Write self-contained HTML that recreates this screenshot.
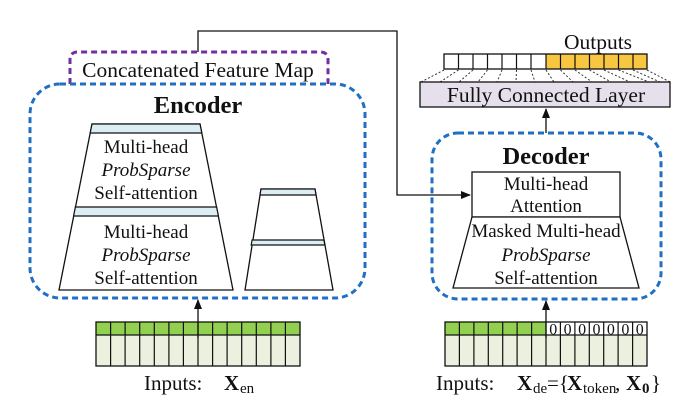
<!DOCTYPE html>
<html><head><meta charset="utf-8"><style>
html,body{margin:0;padding:0;background:#fff;}
svg{display:block;}
text{font-family:"Liberation Serif",serif;fill:#111;}
</style></head><body>
<svg width="700" height="412" viewBox="0 0 700 412" xmlns="http://www.w3.org/2000/svg">
<defs>
<marker id="ar" markerWidth="10" markerHeight="10" refX="9" refY="5" orient="auto" markerUnits="userSpaceOnUse">
<path d="M0,1 L10,5 L0,9 z" fill="#111"/>
</marker>
</defs>

<polyline points="198,52 198,31 397,31 397,195 470,195" fill="none" stroke="#111" stroke-width="1.3" marker-end="url(#ar)"/>

<path d="M70,84 L70,60 Q70,52 78,52 L320,52 Q328,52 328,60 L328,84" fill="none" stroke="#7030a0" stroke-width="3" stroke-dasharray="6,4"/>
<text x="198" y="77" font-size="21.5" text-anchor="middle">Concatenated Feature Map</text>

<rect x="30" y="84" width="335" height="214" rx="30" fill="none" stroke="#1f6fc5" stroke-width="3" stroke-dasharray="6,4"/>
<text x="198" y="113" font-size="24.5" font-weight="bold" text-anchor="middle">Encoder</text>

<polygon points="92,124 200,124 233,290 59,290" fill="#fff" stroke="#111" stroke-width="1.3"/>
<polygon points="92,124 200,124 201.8,133 90.2,133" fill="#daeef3" stroke="#111" stroke-width="1.2"/>
<polygon points="75.4,207 216.6,207 218.4,216 73.6,216" fill="#daeef3" stroke="#111" stroke-width="1.2"/>
<text x="146" y="153" font-size="19" text-anchor="middle">Multi-head</text>
<text x="146" y="176" font-size="19" text-anchor="middle" font-style="italic">ProbSparse</text>
<text x="146" y="199" font-size="19" text-anchor="middle">Self-attention</text>
<text x="146" y="238" font-size="19" text-anchor="middle">Multi-head</text>
<text x="146" y="261" font-size="19" text-anchor="middle" font-style="italic">ProbSparse</text>
<text x="146" y="284" font-size="19" text-anchor="middle">Self-attention</text>

<polygon points="261,189 315,189 333,290 245,290" fill="#fff" stroke="#111" stroke-width="1.3"/>
<polygon points="261,189 315,189 316,195 260,195" fill="#daeef3" stroke="#111" stroke-width="1.2"/>
<polygon points="252.1,240 323.9,240 324.8,245 251.2,245" fill="#daeef3" stroke="#111" stroke-width="1.2"/>

<rect x="96" y="322" width="204" height="13" fill="#92d050"/>
<rect x="96" y="335" width="204" height="31" fill="#ebf1de"/>
<path d="M110.6,322V366M125.1,322V366M139.7,322V366M154.3,322V366M168.9,322V366M183.4,322V366M198,322V366M212.6,322V366M227.1,322V366M241.7,322V366M256.3,322V366M270.9,322V366M285.4,322V366M96,335H300" stroke="#111" stroke-width="1.2" fill="none"/>
<rect x="96" y="322" width="204" height="44" fill="none" stroke="#111" stroke-width="1.3"/>
<line x1="198" y1="338" x2="198" y2="300" stroke="#111" stroke-width="1.3" marker-end="url(#ar)"/>
<text x="144" y="390" font-size="21">Inputs:</text>
<text x="224" y="390" font-size="21" font-weight="bold">X</text>
<text x="240" y="393" font-size="15">en</text>

<text x="598" y="49" font-size="21.5" text-anchor="middle">Outputs</text>
<rect x="444" y="54" width="102" height="15" fill="#fff"/>
<rect x="546" y="54" width="101" height="15" fill="#f9c642"/>
<path d="M458.5,54V69M473,54V69M487.5,54V69M502,54V69M516.5,54V69M531,54V69M546,54V69M560.5,54V69M575,54V69M589.5,54V69M604,54V69M618.5,54V69M633,54V69" stroke="#111" stroke-width="1.2"/>
<rect x="444" y="54" width="203" height="15" fill="none" stroke="#111" stroke-width="1.3"/>
<g stroke="#333" stroke-width="1" stroke-dasharray="2,2">
<line x1="444" y1="70" x2="421" y2="82"/><line x1="458.5" y1="70" x2="440" y2="82"/><line x1="473" y1="70" x2="459" y2="82"/><line x1="487.5" y1="70" x2="478" y2="82"/><line x1="502" y1="70" x2="497" y2="82"/><line x1="516.5" y1="70" x2="516" y2="82"/><line x1="531" y1="70" x2="535" y2="82"/><line x1="546" y1="70" x2="554" y2="82"/><line x1="560.5" y1="70" x2="573" y2="82"/><line x1="575" y1="70" x2="592" y2="82"/><line x1="589.5" y1="70" x2="611" y2="82"/><line x1="604" y1="70" x2="630" y2="82"/><line x1="618.5" y1="70" x2="649" y2="82"/><line x1="633" y1="70" x2="660" y2="82"/><line x1="647" y1="70" x2="670" y2="82"/>
</g>

<rect x="420" y="82" width="250" height="25" fill="#e6e0ec" stroke="#111" stroke-width="1.3"/>
<text x="546" y="102" font-size="21.5" text-anchor="middle">Fully Connected Layer</text>
<line x1="546" y1="133" x2="546" y2="109" stroke="#111" stroke-width="1.3" marker-end="url(#ar)"/>

<rect x="432" y="133" width="229" height="166" rx="26" fill="none" stroke="#1f6fc5" stroke-width="3" stroke-dasharray="6,4"/>
<text x="546" y="164" font-size="24.5" font-weight="bold" text-anchor="middle">Decoder</text>
<rect x="472" y="172" width="148" height="45" fill="#fff" stroke="#111" stroke-width="1.3"/>
<text x="546" y="190" font-size="19" text-anchor="middle">Multi-head</text>
<text x="546" y="212" font-size="19" text-anchor="middle">Attention</text>
<polygon points="472,217 620,217 639,288 453,288" fill="#fff" stroke="#111" stroke-width="1.3"/>
<text x="546" y="237" font-size="19" text-anchor="middle">Masked Multi-head</text>
<text x="546" y="261" font-size="19" text-anchor="middle" font-style="italic">ProbSparse</text>
<text x="546" y="284" font-size="19" text-anchor="middle">Self-attention</text>

<rect x="445" y="322" width="101" height="13" fill="#92d050"/>
<rect x="546" y="322" width="101" height="13" fill="#fff"/>
<rect x="445" y="335" width="202" height="31" fill="#ebf1de"/>
<path d="M459.4,322V366M473.9,322V366M488.3,322V366M502.7,322V366M517.1,322V366M531.6,322V366M546,322V366M560.4,322V366M574.9,322V366M589.3,322V366M603.7,322V366M618.1,322V366M632.6,322V366M445,335H647" stroke="#111" stroke-width="1.2" fill="none"/>
<rect x="445" y="322" width="202" height="44" fill="none" stroke="#111" stroke-width="1.3"/>
<g font-size="16" text-anchor="middle">
<text x="553.2" y="334.5">0</text><text x="567.6" y="334.5">0</text><text x="582.1" y="334.5">0</text><text x="596.5" y="334.5">0</text><text x="610.9" y="334.5">0</text><text x="625.4" y="334.5">0</text><text x="639.8" y="334.5">0</text>
</g>
<line x1="546" y1="338" x2="546" y2="301" stroke="#111" stroke-width="1.3" marker-end="url(#ar)"/>
<text x="436" y="390" font-size="21">Inputs:</text>
<text x="517" y="390" font-size="21" font-weight="bold">X</text>
<text x="533" y="393" font-size="15">de</text>
<text x="547" y="390" font-size="21">={</text>
<text x="567" y="390" font-size="21" font-weight="bold">X</text>
<text x="583" y="393" font-size="15">token</text>
<text x="615" y="390" font-size="21">,</text>
<text x="626" y="390" font-size="21" font-weight="bold">X</text>
<text x="642" y="393" font-size="15" font-weight="bold">0</text>
<text x="651" y="390" font-size="21">}</text>
</svg>
</body></html>
